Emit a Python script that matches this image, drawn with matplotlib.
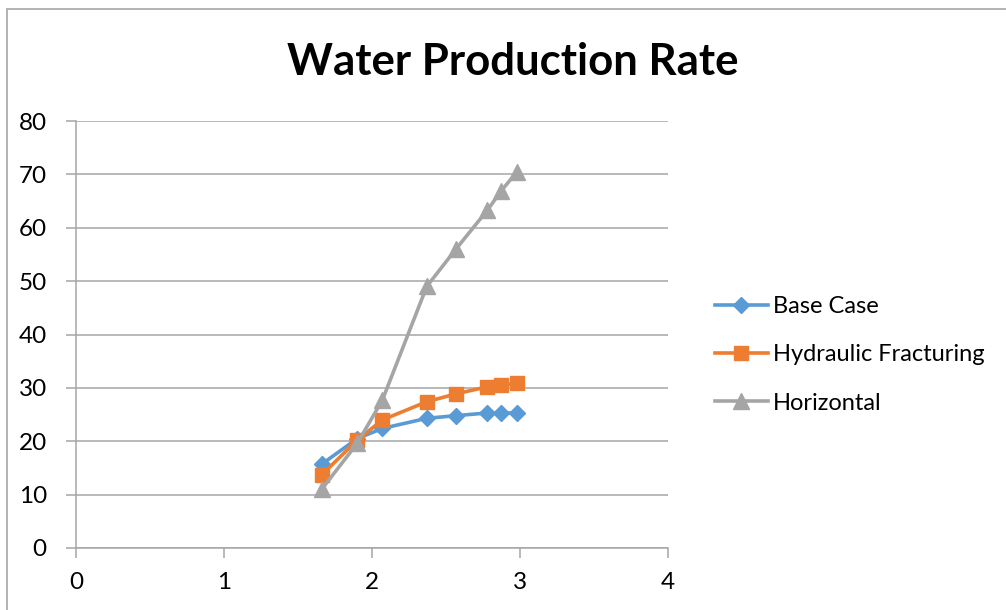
import matplotlib
matplotlib.use("Agg")
import matplotlib.pyplot as plt
from matplotlib.patches import Rectangle

x_vals = [1.66, 1.90, 2.07, 2.37, 2.57, 2.78, 2.87, 2.98]
base_case = [15.7, 20.5, 22.4, 24.3, 24.8, 25.3, 25.3, 25.3]
hydraulic = [13.7, 20.2, 24.0, 27.4, 28.9, 30.2, 30.5, 30.9]
horizontal = [11.0, 19.6, 27.7, 49.0, 56.1, 63.3, 66.8, 70.5]
series_names = ["Base Case", "Hydraulic Fracturing", "Horizontal"]
x_ticks = [0, 1, 2, 3, 4]
y_ticks = [0, 10, 20, 30, 40, 50, 60, 70, 80]
title = "Water Production Rate"

plt.rcParams['font.family'] = ['Lato', 'DejaVu Sans']

W, H = 1006, 610
fig = plt.figure(figsize=(W / 100, H / 100), dpi=100)
fig.patch.set_facecolor("white")

# outer chart border (partially cropped)
fig.patches.append(Rectangle((7 / W, -0.1), 1.2, (H - 9) / H + 0.1,
                             transform=fig.transFigure, fill=False,
                             edgecolor="#a6a6a6", linewidth=1.2))

ax = fig.add_axes([76 / W, 1 - 548 / H, (668 - 76) / W, (548 - 121) / H])
grid_c = "#a6a6a6"

ax.plot(x_vals, base_case, color="#5B9BD5", lw=2.6, marker="D", ms=8.5,
        label=series_names[0], zorder=3)
ax.plot(x_vals, hydraulic, color="#ED7D31", lw=2.6, marker="s", ms=10,
        label=series_names[1], zorder=4)
ax.plot(x_vals, horizontal, color="#A5A5A5", lw=2.6, marker="^", ms=11,
        label=series_names[2], zorder=5)

ax.set_xlim(0, 4)
ax.set_ylim(0, 80)
ax.set_xticks(x_ticks)
ax.set_yticks(y_ticks)
ax.set_xticklabels([str(v) for v in x_ticks])
ax.set_yticklabels([str(v) for v in y_ticks])
ax.grid(axis="y", color=grid_c, lw=1.1)
ax.set_axisbelow(True)
for s in ["top", "right"]:
    ax.spines[s].set_visible(False)
for s in ["left", "bottom"]:
    ax.spines[s].set_color(grid_c)
    ax.spines[s].set_linewidth(1.1)
ax.tick_params(axis="both", direction="out", color=grid_c, width=1.1,
               length=7, labelsize=17.5, labelcolor="black")
ax.tick_params(axis="y", pad=14)
ax.tick_params(axis="x", pad=10)

fig.text(513 / W, 1 - 62 / H, title, ha="center", va="center",
         fontsize=31.5, fontweight="bold")

leg = ax.legend(loc="center left", bbox_to_anchor=(1.059, 0.452), frameon=False,
                fontsize=17, handlelength=2.25, handletextpad=0.22,
                labelspacing=1.15, borderpad=0)

fig.savefig("out.png", dpi=100)
